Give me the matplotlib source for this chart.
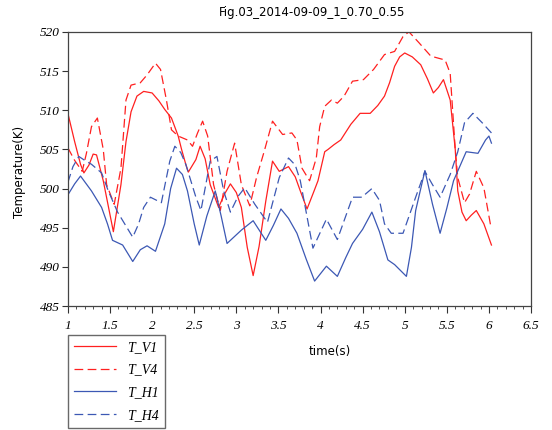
import matplotlib
matplotlib.use("Agg")
import matplotlib.pyplot as plt
from matplotlib.ticker import MultipleLocator

# values
t_v1 = [1.0, 1.08, 1.15, 1.19, 1.25, 1.3, 1.34, 1.42, 1.54, 1.63, 1.69, 1.75, 1.82, 1.9, 2.0, 2.08, 2.15, 2.23, 2.31,
        2.35, 2.4, 2.43, 2.52, 2.57, 2.63, 2.69, 2.79, 2.86, 2.93, 3.0, 3.06, 3.13, 3.2, 3.27, 3.35, 3.43, 3.51, 3.62,
        3.7, 3.76, 3.84, 3.92, 3.97, 4.05, 4.09, 4.16, 4.24, 4.36, 4.47, 4.59, 4.68, 4.76, 4.82, 4.88, 4.94, 5.0, 5.09,
        5.19, 5.27, 5.34, 5.4, 5.46, 5.54, 5.6, 5.63, 5.68, 5.73, 5.79, 5.85, 5.94, 6.03]
v1 = [509.6, 506.0, 503.1, 502.0, 503.0, 504.4, 504.3, 501.0, 494.5, 500.5, 506.0, 509.8, 511.8, 512.4, 512.2, 511.2,
      510.1, 509.0, 506.7, 505.0, 503.1, 502.1, 503.7, 505.4, 503.8, 500.5, 497.6, 499.3, 500.6, 499.5, 497.6, 492.5,
      488.9, 492.6, 498.4, 503.5, 502.2, 502.8, 501.5, 499.7, 497.4, 499.6, 501.0, 504.7, 505.0, 505.6, 506.2, 508.2,
      509.6, 509.6, 510.6, 511.8, 513.5, 515.6, 516.8, 517.3, 516.8, 515.8, 514.0, 512.2, 512.9, 513.9, 511.3, 505.0,
      499.7, 497.0, 495.9, 496.6, 497.2, 495.5, 492.8]

t_v4 = [1.0, 1.08, 1.17, 1.22, 1.28, 1.35, 1.42, 1.46, 1.55, 1.63, 1.69, 1.75, 1.86, 1.94, 2.04, 2.1, 2.17, 2.23, 2.31,
        2.42, 2.48, 2.54, 2.6, 2.66, 2.73, 2.81, 2.89, 2.98, 3.06, 3.16, 3.24, 3.33, 3.43, 3.55, 3.66, 3.72, 3.78, 3.87,
        3.95, 3.99, 4.05, 4.13, 4.2, 4.28, 4.38, 4.51, 4.63, 4.76, 4.88, 4.98, 5.05, 5.17, 5.31, 5.48, 5.54, 5.6, 5.63,
        5.71, 5.77, 5.85, 5.94, 6.02]
v4 = [505.2, 503.6, 502.2, 504.5, 507.9, 509.0, 505.0, 500.5, 498.0, 502.6, 511.3, 513.2, 513.5, 514.5, 516.0, 515.2,
      511.3, 507.5, 506.7, 506.2, 505.4, 507.1, 508.6, 506.7, 500.5, 497.2, 502.2, 505.8, 500.5, 497.8, 501.4, 504.7,
      508.6, 506.9, 507.1, 506.2, 502.6, 501.0, 503.9, 507.9, 510.5, 511.3, 510.9, 511.8, 513.7, 513.9, 515.2, 517.1,
      517.5, 519.4, 520.0, 518.6, 516.9, 516.4, 514.7, 505.0, 501.4, 498.2, 499.3, 502.2, 500.1, 495.3]

t_h1 = [1.0, 1.08, 1.15, 1.28, 1.4, 1.47, 1.53, 1.65, 1.77, 1.86, 1.94, 2.04, 2.15, 2.22, 2.29, 2.36, 2.42, 2.5, 2.56,
        2.65, 2.75, 2.82, 2.89, 3.06, 3.2, 3.35, 3.44, 3.53, 3.62, 3.72, 3.83, 3.93, 4.07, 4.2, 4.3, 4.38, 4.5, 4.61,
        4.7, 4.8, 4.88, 5.02, 5.08, 5.13, 5.24, 5.33, 5.42, 5.5, 5.58, 5.73, 5.87, 5.96, 6.0, 6.03]
h1 = [499.2, 500.6, 501.6, 499.7, 497.6, 495.5, 493.4, 492.8, 490.7, 492.2, 492.7, 492.0, 495.5, 500.0, 502.6, 501.8,
      499.7, 495.5, 492.8, 496.5, 499.7, 496.5, 493.0, 494.7, 495.9, 493.4, 495.3, 497.4, 496.2, 494.3, 491.0, 488.2,
      490.1, 488.8, 491.2, 493.0, 494.8, 497.0, 494.5, 490.9, 490.3, 488.8, 492.5, 497.2, 502.3, 498.0, 494.3, 497.5,
      501.0, 504.7, 504.5, 506.2, 506.7, 505.8]

t_h4 = [1.0, 1.06, 1.13, 1.2, 1.28, 1.4, 1.48, 1.59, 1.77, 1.84, 1.9, 1.98, 2.11, 2.21, 2.27, 2.34, 2.4, 2.52, 2.58,
        2.69, 2.77, 2.85, 2.93, 3.02, 3.1, 3.22, 3.37, 3.51, 3.62, 3.7, 3.76, 3.91, 4.07, 4.2, 4.3, 4.38, 4.49, 4.61,
        4.7, 4.76, 4.84, 4.98, 5.13, 5.24, 5.33, 5.42, 5.54, 5.63, 5.71, 5.81, 5.92, 6.03]
h4 = [500.8, 502.8, 504.1, 503.6, 503.1, 502.0, 499.7, 497.0, 493.8, 495.5, 497.6, 498.9, 498.2, 503.5, 505.4, 504.6,
      503.1, 498.9, 497.2, 503.5, 504.1, 499.7, 497.0, 499.0, 500.1, 498.0, 495.7, 501.4, 503.9, 503.0, 501.0, 492.4,
      496.1, 493.5, 496.5, 498.9, 498.9, 500.0, 498.5, 495.5, 494.3, 494.3, 498.9, 502.2, 500.5, 498.9, 501.8, 504.7,
      508.4, 509.6, 508.4, 507.1]

labels = ["T_V1", "T_V4", "T_H1", "T_H4"]
red = "#ff2020"
blue = "#3c58b4"
tick_font = dict(family="Liberation Serif", style="italic", size=9.5)

fig = plt.figure(figsize=(5.52, 4.30), dpi=100)
ax = fig.add_axes([0.123, 0.288, 0.839, 0.638])

dash = (0, (7, 3.5))
l1, = ax.plot(t_v1, v1, color=red, lw=0.9)
l2, = ax.plot(t_v4, v4, color=red, lw=0.9, linestyle=dash)
l3, = ax.plot(t_h1, h1, color=blue, lw=0.9)
l4, = ax.plot(t_h4, h4, color=blue, lw=0.9, linestyle=dash)

ax.set_xlim(1, 6.5)
ax.set_ylim(485, 520)
ax.xaxis.set_major_locator(MultipleLocator(0.5))
ax.xaxis.set_minor_locator(MultipleLocator(0.1))
ax.yaxis.set_major_locator(MultipleLocator(5))
ax.tick_params(axis="x", which="major", direction="out", length=5, width=0.8, color="#333333", pad=5)
ax.tick_params(axis="x", which="minor", direction="out", length=2.5, width=0.6, color="#333333")
ax.tick_params(axis="y", which="major", direction="out", length=4, width=0.8, color="#333333", pad=2)
ax.set_xticks([1, 1.5, 2, 2.5, 3, 3.5, 4, 4.5, 5, 5.5, 6, 6.5])
ax.set_xticklabels(["1", "1.5", "2", "2.5", "3", "3.5", "4", "4.5", "5", "5.5", "6", "6.5"], **tick_font)
ax.set_yticks([485, 490, 495, 500, 505, 510, 515, 520])
ax.set_yticklabels(["485", "490", "495", "500", "505", "510", "515", "520"], **tick_font)
for s in ax.spines.values():
    s.set_color("#444444")
    s.set_linewidth(0.9)

fig.text(0.565, 0.972, "Fig.03_2014-09-09_1_0.70_0.55", ha="center", va="center",
         family="DejaVu Sans", size=8.5)
fig.text(0.036, 0.60, "Temperature(K)", rotation=90, ha="center", va="center",
         family="DejaVu Sans", size=8.5)
fig.text(0.598, 0.182, "time(s)", ha="center", va="center", family="DejaVu Sans", size=8.5)

leg = fig.legend([l1, l2, l3, l4], labels, loc="upper left", bbox_to_anchor=(0.123, 0.222),
                 prop=dict(family="Liberation Serif", style="italic", size=10),
                 frameon=True, fancybox=False, handlelength=3.0, handletextpad=0.8,
                 labelspacing=0.7, borderpad=0.45, borderaxespad=0)
leg.get_frame().set_edgecolor("#444444")
leg.get_frame().set_linewidth(1.0)

fig.savefig("out.png", dpi=100)
